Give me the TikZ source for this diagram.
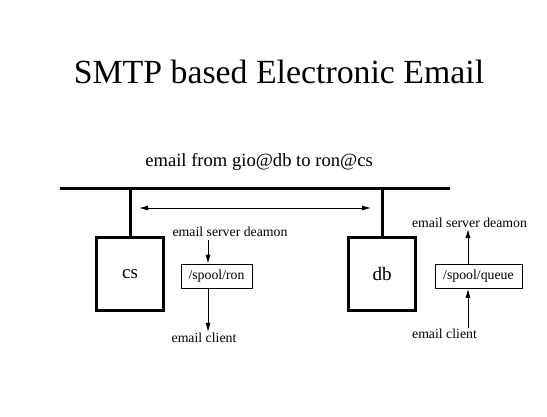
\documentclass[tikz,border=0pt]{standalone}
\usepackage{fontspec}
\setmainfont{Liberation Serif}
\usetikzlibrary{arrows.meta}
\tikzset{
  host/.style={draw,line width=3.5pt,minimum width=67pt,minimum height=73pt,inner sep=0pt,font=\fontsize{19}{22}\selectfont},
  spool/.style={draw,line width=0.7pt,minimum height=24pt,inner sep=0pt,font=\fontsize{13.8}{16}\selectfont},
  lbl/.style={font=\fontsize{13.8}{16}\selectfont,inner sep=1pt},
  wire/.style={line width=3pt},
  flow/.style={line width=0.8pt,-{Latex[length=9pt,width=5pt]}}
}
\begin{document}
\begin{tikzpicture}[x=1pt,y=-1pt]
\useasboundingbox (0,0) rectangle (547,416);
\node (title) at (279,72) {\fontsize{33.8}{38}\selectfont SMTP based Electronic Email};
\node (sub) at (259,162) {\fontsize{18.6}{22}\selectfont email from gio@db to ron@cs};
% bus
\coordinate (busL) at (60,188);
\coordinate (busR) at (450,188);
\draw[wire] (busL) -- (busR);
% hosts
\node[host] (cs) at (130,274) {cs};
\node[host] (db) at (382,274) {db};
\draw[wire] (cs.north) -- (cs.north |- busL);
\draw[wire] (db.north) -- (db.north |- busL);
\coordinate (trL) at (139,208);
\coordinate (trR) at (371,208);
\draw[line width=0.8pt,{Latex[length=9pt,width=5pt]}-{Latex[length=9pt,width=5pt]}] (trL) -- (trR);
% cs side
\node[lbl] (srvA) at (230,232) {email server deamon};
\node[spool,minimum width=71pt] (ron) at (216.5,276) {/spool/ron};
\node[lbl] (cliA) at (204,338) {email client};
\draw[flow] (208,240) -- (ron.north -| 208,0);
\draw[flow] (ron.south -| 208,0) -- (cliA.north -| 208,0);
% db side
\node[lbl] (srvB) at (469.5,223) {email server deamon};
\node[spool,minimum width=87pt] (queue) at (478.5,276.5) {/spool/queue};
\node[lbl] (cliB) at (444.5,334) {email client};
\draw[flow] (queue.north -| 468,0) -- (srvB.south -| 468,0);
\draw[flow] (cliB.north -| 468,0) -- (queue.south -| 468,0);
\end{tikzpicture}
\end{document}
